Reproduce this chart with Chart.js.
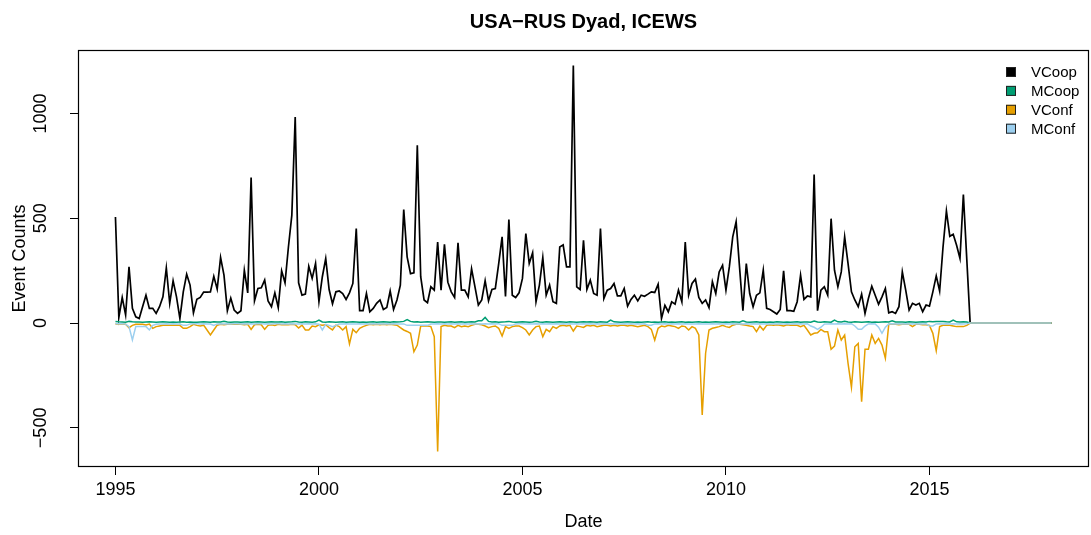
<!DOCTYPE html>
<html>
<head>
<meta charset="utf-8">
<script src="https://cdn.jsdelivr.net/npm/chart.js@4.4.1/dist/chart.umd.min.js"></script>
<style>
  html, body { margin: 0; padding: 0; background: #fff; }
  #wrap { width: 1091px; height: 535px; }
</style>
</head>
<body>
<div id="wrap"><canvas id="dyad" width="1091" height="535"></canvas></div>
<script>
// monthly counts, Jan 1995 .. Jan 2018
const startYear = 1995;
const seriesNames = ['VCoop', 'MCoop', 'VConf', 'MConf'];
const seriesColors = ['#000000', '#009E73', '#E69F00', '#9CCFEF'];
const xTicks = [1995, 2000, 2005, 2010, 2015];
const yTicks = [-500, 0, 500, 1000];

const vcoop = [
  506, 27, 122, 39, 268, 70, 30, 22, 78, 133, 70, 70,
  46, 78, 125, 263, 94, 202, 125, 22, 149, 233, 181, 49,
  113, 122, 148, 148, 149, 223, 162, 313, 229, 59, 119, 62,
  46, 59, 252, 144, 694, 106, 165, 168, 205, 105, 78, 144,
  74, 249, 192, 363, 514, 983, 192, 133, 138, 271, 213, 284,
  102, 221, 308, 160, 92, 149, 153, 141, 113, 144, 189, 451,
  59, 59, 141, 54, 70, 94, 110, 65, 74, 153, 65, 110,
  181, 541, 316, 236, 240, 848, 221, 110, 97, 173, 157, 387,
  157, 376, 195, 149, 122, 383, 157, 157, 125, 259, 173, 86,
  110, 202, 106, 160, 165, 284, 411, 127, 494, 133, 122, 144,
  213, 427, 284, 335, 102, 181, 313, 133, 181, 102, 94, 363,
  373, 268, 268, 1229, 173, 160, 395, 160, 205, 141, 133, 451,
  117, 157, 165, 189, 130, 130, 165, 81, 113, 133, 106, 133,
  128, 138, 149, 146, 185, 22, 85, 54, 101, 90, 157, 102,
  387, 133, 189, 210, 122, 94, 110, 74, 197, 141, 244, 276,
  157, 268, 411, 483, 268, 59, 284, 141, 78, 133, 144, 252,
  70, 65, 54, 43, 65, 249, 59, 59, 56, 102, 229, 113,
  129, 125, 709, 59, 157, 173, 133, 498, 252, 173, 244, 411,
  284, 149, 110, 78, 138, 46, 117, 176, 133, 90, 125, 165,
  49, 54, 46, 78, 244, 157, 62, 94, 86, 94, 54, 86,
  81, 149, 225, 153, 363, 535, 414, 424, 371, 308, 613, 306,
  0, 0, 0, 0, 0, 0, 0, 0, 0, 0, 0, 0,
  0, 0, 0, 0, 0, 0, 0, 0, 0, 0, 0, 0,
  0
];

const mcoop = [
  8, 6, 5, 4, 8, 6, 5, 5, 4, 5, 6, 5,
  4, 5, 6, 5, 4, 5, 4, 5, 6, 4, 5, 4,
  4, 5, 6, 5, 4, 6, 5, 5, 8, 5, 4, 5,
  5, 4, 5, 6, 4, 5, 6, 5, 4, 5, 6, 5,
  5, 6, 4, 5, 6, 8, 5, 4, 6, 5, 4, 6,
  14, 5, 4, 6, 5, 4, 5, 6, 4, 5, 6, 5,
  4, 5, 4, 5, 6, 4, 5, 6, 5, 4, 6, 5,
  6, 8, 17, 8, 5, 6, 4, 5, 6, 5, 4, 5,
  5, 4, 5, 6, 4, 5, 6, 4, 5, 6, 5, 11,
  11, 27, 8, 5, 6, 4, 5, 6, 8, 5, 4, 5,
  6, 5, 4, 5, 8, 5, 4, 6, 5, 4, 5, 6,
  5, 4, 6, 5, 4, 5, 6, 5, 6, 5, 4, 6,
  5, 4, 14, 6, 5, 4, 5, 6, 5, 4, 5, 4,
  5, 6, 4, 5, 4, 5, 6, 4, 5, 4, 5, 6,
  4, 5, 4, 5, 6, 4, 5, 4, 5, 6, 5, 4,
  5, 4, 6, 5, 4, 11, 5, 4, 5, 6, 4, 5,
  4, 5, 4, 6, 5, 4, 5, 4, 5, 6, 4, 5,
  5, 4, 10, 5, 4, 6, 5, 4, 14, 6, 5, 8,
  5, 4, 6, 5, 4, 5, 6, 4, 5, 4, 5, 6,
  5, 11, 5, 5, 5, 4, 6, 5, 4, 5, 6, 5,
  8, 6, 8, 8, 8, 6, 5, 14, 6, 5, 6, 5,
  0, 0, 0, 0, 0, 0, 0, 0, 0, 0, 0, 0,
  0, 0, 0, 0, 0, 0, 0, 0, 0, 0, 0, 0,
  0
];

const vconf = [
  -5, -5, -5, -6, -22, -11, -6, -6, -6, -9, -5, -25,
  -17, -14, -11, -11, -11, -11, -11, -11, -25, -25, -17, -6,
  -11, -14, -10, -33, -57, -33, -10, -6, -8, -6, -6, -5,
  -6, -6, -8, -6, -30, -8, -6, -8, -30, -11, -8, -11,
  -6, -8, -8, -8, -6, -8, -24, -10, -33, -33, -14, -17,
  -8, -10, -8, -22, -33, -10, -17, -33, -17, -100, -30, -46,
  -25, -17, -11, -6, -8, -6, -8, -6, -8, -6, -8, -10,
  -22, -33, -40, -49, -137, -105, -14, -14, -14, -17, -65, -613,
  -17, -11, -14, -14, -22, -11, -17, -14, -17, -11, -6, -6,
  -8, -14, -22, -17, -14, -25, -62, -17, -25, -17, -14, -14,
  -22, -33, -57, -33, -17, -14, -65, -30, -41, -17, -25, -14,
  -11, -14, -11, -38, -14, -17, -21, -11, -14, -11, -17, -14,
  -11, -11, -14, -11, -14, -11, -11, -14, -11, -14, -17, -14,
  -11, -17, -30, -81, -25, -14, -17, -11, -14, -17, -25, -14,
  -17, -33, -17, -25, -57, -438, -144, -33, -25, -21, -17, -11,
  -17, -21, -10, -6, -6, -8, -10, -14, -17, -41, -14, -33,
  -11, -8, -10, -8, -10, -14, -8, -10, -11, -11, -17, -11,
  -33, -57, -49, -46, -30, -41, -41, -125, -110, -33, -81, -57,
  -192, -306, -113, -97, -375, -125, -125, -57, -97, -73, -105, -168,
  -6, -6, -6, -8, -6, -5, -6, -17, -6, -6, -8, -8,
  -11, -49, -132, -17, -11, -11, -11, -14, -17, -17, -17, -11,
  0, 0, 0, 0, 0, 0, 0, 0, 0, 0, 0, 0,
  0, 0, 0, 0, 0, 0, 0, 0, 0, 0, 0, 0,
  0
];

const mconf = [
  -3, -3, -3, -5, -17, -81, -17, -17, -17, -17, -33, -11,
  -6, -5, -4, -3, -4, -3, -4, -5, -11, -11, -4, -3,
  -3, -4, -3, -4, -5, -11, -4, -3, -4, -3, -4, -3,
  -3, -4, -3, -4, -3, -4, -3, -3, -4, -3, -4, -3,
  -3, -4, -3, -4, -3, -4, -5, -3, -4, -3, -4, -3,
  -5, -33, -6, -11, -17, -11, -5, -4, -3, -4, -5, -4,
  -3, -4, -3, -4, -3, -4, -3, -4, -3, -4, -3, -4,
  -5, -4, -11, -11, -11, -11, -11, -11, -11, -5, -4, -3,
  -4, -3, -4, -3, -4, -3, -4, -3, -4, -3, -4, -3,
  -4, -3, -4, -3, -4, -3, -11, -11, -11, -11, -4, -3,
  -3, -4, -3, -4, -3, -4, -3, -4, -3, -4, -3, -4,
  -3, -4, -3, -4, -3, -4, -3, -4, -3, -4, -3, -4,
  -3, -4, -3, -4, -3, -4, -3, -4, -3, -4, -3, -4,
  -3, -10, -10, -4, -3, -4, -3, -4, -3, -4, -3, -4,
  -3, -4, -5, -4, -3, -4, -5, -4, -3, -4, -3, -4,
  -3, -4, -3, -4, -3, -4, -3, -4, -3, -4, -3, -4,
  -3, -4, -3, -4, -3, -4, -3, -4, -3, -4, -3, -4,
  -3, -14, -20, -30, -20, -5, -4, -3, -4, -3, -4, -3,
  -4, -3, -14, -30, -30, -14, -4, -3, -4, -20, -49, -20,
  -4, -3, -4, -3, -4, -3, -4, -3, -4, -3, -4, -3,
  -14, -14, -4, -3, -4, -3, -4, -3, -4, -3, -4, -3,
  0, 0, 0, 0, 0, 0, 0, 0, 0, 0, 0, 0,
  0, 0, 0, 0, 0, 0, 0, 0, 0, 0, 0, 0,
  0
];

const FONT = '"Liberation Sans", Arial, Helvetica, sans-serif';
const allSeries = [vcoop, mcoop, vconf, mconf];
const toPoints = arr => arr.map((v, i) => ({ x: startYear + i / 12, y: v }));

// R-style 4% axis padding
const xLo = startYear, xHi = startYear + (vcoop.length - 1) / 12;
const flat = allSeries.flat();
const yLo = Math.min(...flat), yHi = Math.max(...flat);
const padX = (xHi - xLo) * 0.04, padY = (yHi - yLo) * 0.04;

const fmtNum = v => (v < 0 ? '\u2212' + Math.abs(v) : String(v));

const rFrame = {
  id: 'rFrame',
  afterDraw(chart) {
    const { ctx, chartArea: a } = chart;
    ctx.save();
    // box
    ctx.strokeStyle = '#000'; ctx.lineWidth = 1.2;
    ctx.strokeRect(a.left + 0.5, a.top + 0.5, a.right - a.left - 1, a.bottom - a.top - 1);

    // y tick labels, rotated like R (las = 0)
    const ys = chart.scales.y;
    ctx.fillStyle = '#000';
    ctx.font = '18px ' + FONT;
    ctx.textAlign = 'center'; ctx.textBaseline = 'middle';
    ys.ticks.forEach(t => {
      const py = ys.getPixelForValue(t.value);
      ctx.save(); ctx.translate(41, py); ctx.rotate(-Math.PI / 2);
      ctx.fillText(fmtNum(t.value), 0, 0);
      ctx.restore();
    });

    // title over the plot region
    ctx.font = 'bold 20px ' + FONT;
    ctx.fillText('USA\u2212RUS Dyad, ICEWS', (a.left + a.right) / 2, 22);

    // legend, top right inside the box
    ctx.font = '15px ' + FONT;
    ctx.textAlign = 'left';
    seriesNames.forEach((name, i) => {
      const cy = a.top + 22 + i * 18.9;
      ctx.fillStyle = seriesColors[i];
      ctx.fillRect(a.right - 83, cy - 5, 10, 10);
      ctx.strokeStyle = '#222'; ctx.lineWidth = 1;
      ctx.strokeRect(a.right - 83 + 0.5, cy - 4.5, 9, 9);
      ctx.fillStyle = '#000';
      ctx.fillText(name, a.right - 58, cy + 1);
    });
    ctx.restore();
  }
};

new Chart(document.getElementById('dyad'), {
  type: 'line',
  data: {
    datasets: allSeries.map((arr, i) => ({
      label: seriesNames[i],
      data: toPoints(arr),
      borderColor: seriesColors[i],
      borderWidth: i === 0 ? 1.7 : 1.5,
      pointRadius: 0,
      tension: 0,
      fill: false,
      order: 3 - i
    }))
  },
  options: {
    responsive: false,
    animation: false,
    devicePixelRatio: 1,
    layout: { padding: { top: 50, right: 2, left: 0, bottom: 0 } },
    plugins: { legend: { display: false }, tooltip: { enabled: false }, title: { display: false } },
    scales: {
      x: {
        type: 'linear',
        min: xLo - padX, max: xHi + padX,
        afterBuildTicks: s => { s.ticks = xTicks.map(v => ({ value: v })); },
        afterFit: s => { s.height = 68; },
        border: { display: false },
        grid: { drawOnChartArea: false, drawTicks: true, tickLength: 8, color: '#000', lineWidth: 1 },
        ticks: { color: '#000', font: { family: FONT, size: 18 }, padding: 4, maxRotation: 0, autoSkip: false, callback: v => String(v) },
        title: { display: true, text: 'Date', color: '#000', font: { family: FONT, size: 18 }, padding: { top: 0, bottom: 2 } }
      },
      y: {
        type: 'linear',
        min: yLo - padY, max: yHi + padY,
        afterBuildTicks: s => { s.ticks = yTicks.map(v => ({ value: v })); },
        afterFit: s => { s.width = 78; },
        border: { display: false },
        grid: { drawOnChartArea: false, drawTicks: true, tickLength: 8, color: '#000', lineWidth: 1 },
        ticks: { display: false },
        title: { display: true, text: 'Event Counts', color: '#000', font: { family: FONT, size: 18 }, padding: { top: 9, bottom: 0 } }
      }
    }
  },
  plugins: [rFrame]
});
</script>
</body>
</html>
